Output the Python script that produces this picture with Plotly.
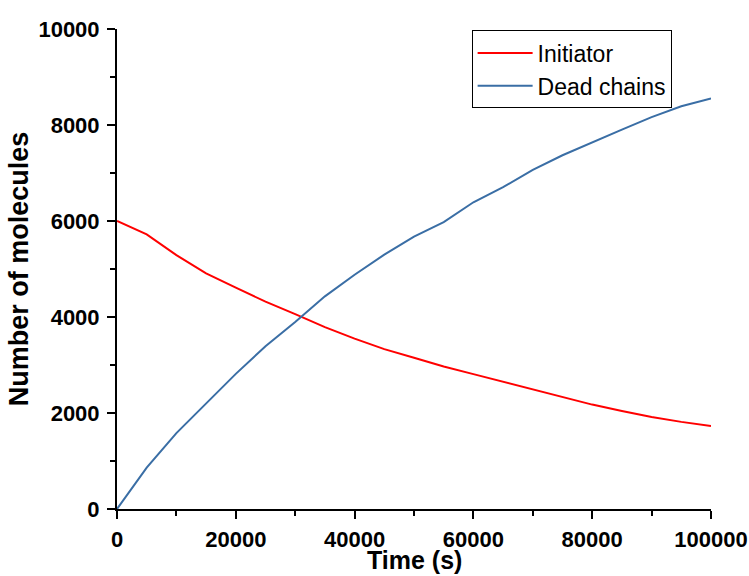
import plotly.graph_objects as go

time_s = [0, 5000, 10000, 15000, 20000, 25000, 30000, 35000, 40000, 45000, 50000,
          55000, 60000, 65000, 70000, 75000, 80000, 85000, 90000, 95000, 100000]
initiator = [6000, 5720, 5290, 4910, 4610, 4320, 4060, 3790, 3550, 3330, 3150,
             2970, 2810, 2655, 2485, 2330, 2175, 2040, 1915, 1815, 1730]
dead_chains = [0, 860, 1580, 2190, 2815, 3390, 3895, 4430, 4880, 5300, 5675,
               5975, 6390, 6705, 7065, 7370, 7645, 7905, 8165, 8390, 8555]

FONT = "Liberation Sans, Arial, sans-serif"

fig = go.Figure()
fig.add_trace(go.Scatter(x=time_s, y=initiator, mode="lines", name="Initiator",
                         line=dict(color="#ff0000", width=2)))
fig.add_trace(go.Scatter(x=time_s, y=dead_chains, mode="lines", name="Dead chains",
                         line=dict(color="#3a6ea5", width=2)))

axis_common = dict(showgrid=False, zeroline=False, showline=True, linecolor="black",
                   linewidth=2, ticks="outside", ticklen=8, tickwidth=2, tickcolor="black",
                   tickformat="d", automargin=False,
                   tickfont=dict(family=FONT, size=22, color="black", weight="bold"),
                   mirror=False)

fig.update_layout(
    width=749, height=576,
    margin=dict(l=117, r=38, t=29, b=67),
    paper_bgcolor="white", plot_bgcolor="white",
    font=dict(family=FONT, color="black"),
    xaxis=dict(range=[0, 100000], dtick=20000, tick0=0, ticklabelstandoff=2,
               minor=dict(dtick=10000, ticks="outside", ticklen=5, tickwidth=2, tickcolor="black"),
               **axis_common),
    yaxis=dict(range=[0, 10000], dtick=2000, tick0=0, ticklabelstandoff=3,
               title=dict(text="Number of molecules", font=dict(family=FONT, size=27, weight="bold"), standoff=2),
               minor=dict(dtick=1000, ticks="outside", ticklen=5, tickwidth=2, tickcolor="black"),
               **axis_common),
    legend=dict(x=0.597, y=0.997, xanchor="left", yanchor="top",
                bgcolor="white", bordercolor="black", borderwidth=1,
                font=dict(family=FONT, size=23, color="black"),
                itemwidth=55, tracegroupgap=0),
    showlegend=True,
    annotations=[dict(text="Time (s)", xref="paper", yref="paper", x=0.5, y=-0.106,
                      xanchor="center", yanchor="middle", showarrow=False,
                      font=dict(family=FONT, size=25, color="black", weight="bold"))],
)

fig.write_html("out.html")
